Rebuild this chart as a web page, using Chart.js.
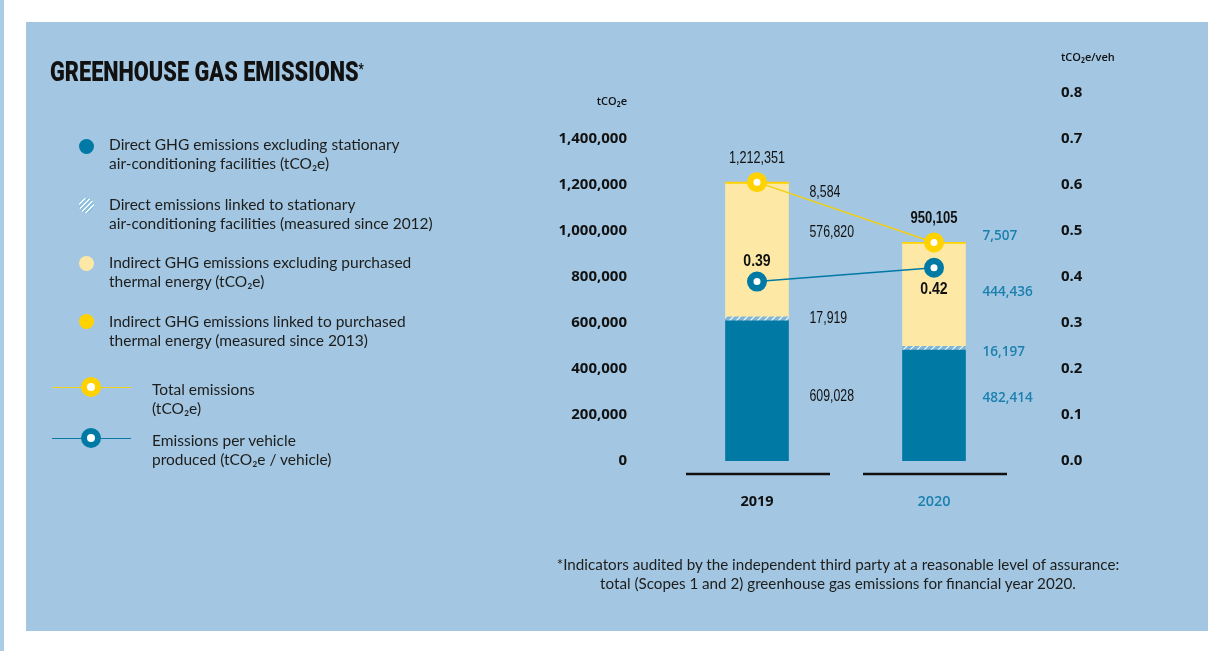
<!DOCTYPE html>
<html><head><meta charset="utf-8">
<script src="https://cdn.jsdelivr.net/npm/chart.js@4.4.0/dist/chart.umd.min.js"></script>
<style>
html,body{margin:0;padding:0;background:#fff;width:1226px;height:651px;overflow:hidden;}
body{position:relative;font-family:Lato,'Open Sans',sans-serif;}
#strip{position:absolute;left:0;top:0;width:4px;height:651px;background:#a9cde5;}
#panel{position:absolute;left:26px;top:22px;width:1182px;height:609px;background:#a3c7e2;}
#chart{position:absolute;left:0;top:0;}
.t{position:absolute;color:#1d1d1b;white-space:nowrap;}
#title{left:50px;top:59px;font:900 27px/27px Roboto,sans-serif;color:#111;transform-origin:0 0;}
#title sup{font-size:14px;vertical-align:top;position:relative;top:-3px;}
.leg{left:109px;font:400 15.5px/19px Lato,sans-serif;}
.leg2{left:152px;font:400 15.5px/19px Lato,sans-serif;}
.dot{position:absolute;width:15px;height:15px;border-radius:50%;left:79px;}
.lline{position:absolute;left:52px;width:79px;height:1px;}
.ring{position:absolute;left:81px;width:20px;height:20px;border-radius:50%;box-sizing:border-box;border:6.5px solid;background:#fff;}
.ax{font:600 11px/12px 'Open Sans',sans-serif;color:#111;}
#foot{left:538px;width:600px;top:555px;text-align:center;font:400 15.2px/19px Lato,sans-serif;color:#1d1d1b;}
</style></head>
<body>
<div id="strip"></div>
<div id="panel"></div>
<canvas id="chart" width="1226" height="651"></canvas>

<div id="title" class="t">GREENHOUSE GAS EMISSIONS<sup>*</sup></div>

<div class="dot" style="top:138.5px;background:#0079a5"></div>
<div class="t leg" style="top:135px">Direct GHG emissions excluding stationary<br>air-conditioning facilities (tCO₂e)</div>
<div class="dot" style="top:197.5px;background:repeating-linear-gradient(135deg,#f4f9fc 0 1.4px,#8dc0de 1.4px 3.6px)"></div>
<div class="t leg" style="top:195px">Direct emissions linked to stationary<br>air-conditioning facilities (measured since 2012)</div>
<div class="dot" style="top:255.5px;background:#fde9a5"></div>
<div class="t leg" style="top:253px">Indirect GHG emissions excluding purchased<br>thermal energy (tCO₂e)</div>
<div class="dot" style="top:313.5px;background:#ffd200"></div>
<div class="t leg" style="top:312px">Indirect GHG emissions linked to purchased<br>thermal energy (measured since 2013)</div>

<div class="lline" style="top:387px;background:#f3d21a"></div>
<div class="ring" style="top:377px;border-color:#ffd200"></div>
<div class="t leg2" style="top:380px">Total emissions<br>(tCO₂e)</div>
<div class="lline" style="top:438px;background:#0a7aa5"></div>
<div class="ring" style="top:428px;border-color:#0079a5"></div>
<div class="t leg2" style="top:431px">Emissions per vehicle<br>produced (tCO₂e / vehicle)</div>

<div class="t ax" style="right:599px;top:95px">tCO₂e</div>
<div class="t ax" style="left:1061px;top:51px">tCO₂e/veh</div>

<div id="foot" class="t">*Indicators audited by the independent third party at a reasonable level of assurance:<br>total (Scopes 1 and 2) greenhouse gas emissions for financial year 2020.</div>

<script>
// ---- data ----
const categories = ['2019', '2020'];
const directExclAC = [609028, 482414];
const directAC = [17919, 16197];
const indirectExclThermal = [576820, 444436];
const indirectThermal = [8584, 7507];
const totalEmissions = [1212351, 950105];
const perVehicle = [0.39, 0.42];
const leftTickValues = [0, 200000, 400000, 600000, 800000, 1000000, 1200000, 1400000];
const rightTickValues = [0, 0.1, 0.2, 0.3, 0.4, 0.5, 0.6, 0.7, 0.8];
const leftAxisMax = 1600000;
const rightAxisMax = 0.8;

// ---- styles ----
const C = {dark:'#0079a5', light:'#fde9a5', yellow:'#ffd200', teal:'#1b80ae', black:'#111'};
const NARROW = "'Liberation Sans',Arial,sans-serif";
const catStyle = [
  {color:C.black, segFont:"400 16px " + NARROW, segScale:0.77, dx:21, catFont:"700 14.5px 'Open Sans',sans-serif"},
  {color:C.teal, segFont:"600 14px 'Open Sans',sans-serif", segScale:0.97, dx:17, catFont:"600 14.5px 'Open Sans',sans-serif"}
];
const segOffsets = [[6, 0, -18, 9], [-8, 4, -3, -7]];
const totalFonts = ["400 16px " + NARROW, "700 16.5px " + NARROW];
const pvOffsets = [-20, 22];

// fit title width
const title = document.getElementById('title');
title.style.transform = 'scaleX(' + (314 / title.offsetWidth) + ')';

const cv = document.getElementById('chart');
const ctx0 = cv.getContext('2d');
function hatch() {
  const c = document.createElement('canvas'); c.width = 7; c.height = 7;
  const g = c.getContext('2d');
  g.fillStyle = '#80b6d6'; g.fillRect(0, 0, 7, 7);
  g.strokeStyle = 'rgba(255,255,255,0.95)'; g.lineWidth = 1.2;
  g.beginPath();
  g.moveTo(-1, 8); g.lineTo(8, -1);
  g.moveTo(-4.5, 4.5); g.lineTo(4.5, -4.5);
  g.moveTo(2.5, 11.5); g.lineTo(11.5, 2.5);
  g.stroke();
  return ctx0.createPattern(c, 'repeat');
}
function txt(ctx, s, x, y, font, color, align, sx) {
  ctx.save();
  ctx.translate(x, y); ctx.scale(sx, 1);
  ctx.font = font; ctx.fillStyle = color; ctx.textAlign = align; ctx.textBaseline = 'middle';
  ctx.fillText(s, 0, 0);
  ctx.restore();
}

const labelPlugin = {
  id: 'labels',
  afterDatasetsDraw(chart) {
    const ctx = chart.ctx, y = chart.scales.y;
    const segs = [directExclAC, directAC, indirectExclThermal, indirectThermal];
    categories.forEach((cat, i) => {
      const st = catStyle[i];
      const bar = chart.getDatasetMeta(0).data[i];
      const right = bar.x + bar.width / 2;
      let base = 0;
      segs.forEach((arr, s) => {
        const v = arr[i];
        const yc = (y.getPixelForValue(base) + y.getPixelForValue(base + v)) / 2;
        base += v;
        txt(ctx, v.toLocaleString('en-US'), right + st.dx, yc + segOffsets[i][s], st.segFont, st.color, 'left', st.segScale);
      });
      const tp = chart.getDatasetMeta(4).data[i];
      txt(ctx, totalEmissions[i].toLocaleString('en-US'), tp.x, tp.y - 24, totalFonts[i], C.black, 'center', 0.79);
      const pp = chart.getDatasetMeta(5).data[i];
      txt(ctx, perVehicle[i].toFixed(2), pp.x, pp.y + pvOffsets[i], "700 16px " + NARROW, C.black, 'center', 0.88);
    });
  },
  afterDraw(chart) {
    const ctx = chart.ctx;
    categories.forEach((cat, i) => {
      const bar = chart.getDatasetMeta(0).data[i];
      ctx.save();
      ctx.strokeStyle = '#111'; ctx.lineWidth = 2.5;
      ctx.beginPath(); ctx.moveTo(bar.x - 71, 474); ctx.lineTo(bar.x + 73, 474); ctx.stroke();
      ctx.restore();
      txt(ctx, cat, bar.x, 502, catStyle[i].catFont, catStyle[i].color, 'center', 1);
    });
  }
};

const barBase = {type:'bar', stack:'bars', yAxisID:'y', barThickness:63, borderWidth:0, order:2};
new Chart(cv, {
  data: {
    labels: categories,
    datasets: [
      Object.assign({label:'Direct GHG emissions excluding stationary air-conditioning facilities', data:directExclAC, backgroundColor:C.dark}, barBase),
      Object.assign({label:'Direct emissions linked to stationary air-conditioning facilities', data:directAC, backgroundColor:hatch()}, barBase),
      Object.assign({label:'Indirect GHG emissions excluding purchased thermal energy', data:indirectExclThermal, backgroundColor:C.light}, barBase),
      Object.assign({label:'Indirect GHG emissions linked to purchased thermal energy', data:indirectThermal, backgroundColor:C.yellow}, barBase),
      {type:'line', label:'Total emissions', data:totalEmissions, yAxisID:'y', stack:'total', order:0,
       borderColor:'#f3cf10', borderWidth:1.5, pointRadius:6.75, pointHoverRadius:6.75, pointBorderWidth:6.5,
       pointBorderColor:C.yellow, pointBackgroundColor:'#fff', fill:false, tension:0},
      {type:'line', label:'Emissions per vehicle produced', data:perVehicle, yAxisID:'y1', order:0,
       borderColor:C.dark, borderWidth:1.5, pointRadius:6.75, pointHoverRadius:6.75, pointBorderWidth:6.5,
       pointBorderColor:C.dark, pointBackgroundColor:'#fff', fill:false, tension:0}
    ]
  },
  options: {
    responsive:false, animation:false, devicePixelRatio:1,
    layout:{padding:{top:93, bottom:190, left:0, right:0}},
    plugins:{legend:{display:false}, tooltip:{enabled:false}},
    scales:{
      x:{type:'category', display:false, stacked:true, offset:true, grid:{display:false}},
      y:{position:'left', stacked:true, min:0, max:leftAxisMax,
         grid:{display:false, drawTicks:false}, border:{display:false},
         afterBuildTicks: s => { s.ticks = leftTickValues.map(v => ({value:v})); },
         afterFit: s => { s.width = 668.5; },
         ticks:{padding:41.5, color:'#111', font:{family:"'Open Sans'", weight:'700', size:15},
                callback: v => v.toLocaleString('en-US')}},
      y1:{position:'right', min:0, max:rightAxisMax,
         grid:{display:false, drawTicks:false}, border:{display:false},
         afterBuildTicks: s => { s.ticks = rightTickValues.map(v => ({value:v})); },
         afterFit: s => { s.width = 203.5; },
         ticks:{padding:38.5, color:'#111', font:{family:"'Open Sans'", weight:'700', size:15},
                callback: v => Number(v).toFixed(1)}}
    }
  },
  plugins:[labelPlugin]
});
</script>
</body></html>
